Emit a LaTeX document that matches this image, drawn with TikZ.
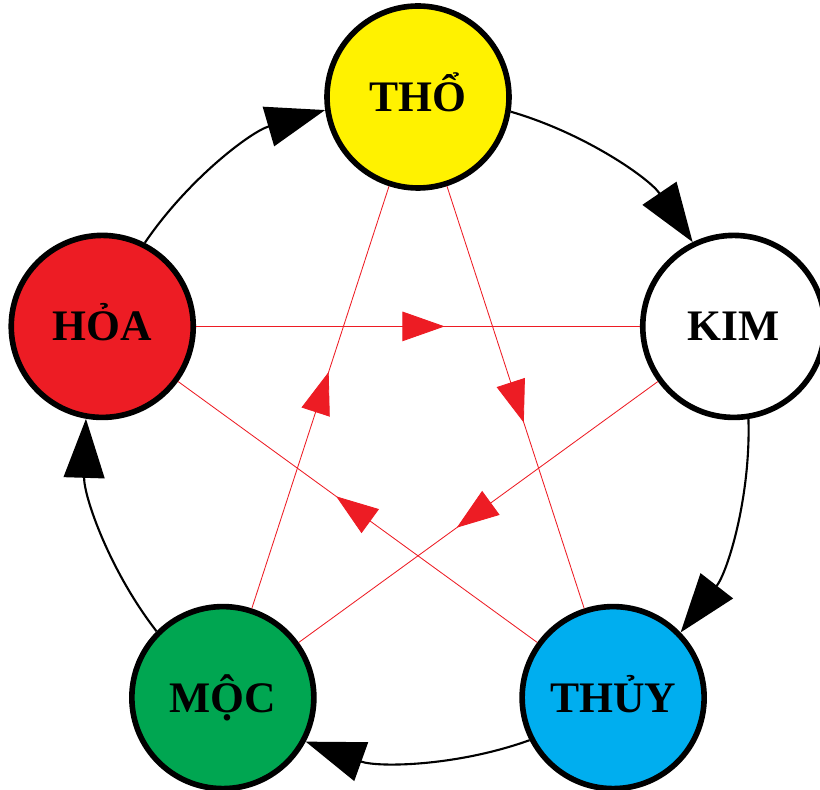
\documentclass[tikz,border=0pt]{standalone}
\usepackage{fontspec}
\setmainfont{Liberation Serif}
\definecolor{ThoYellow}{RGB}{255,242,0}
\definecolor{HoaRed}{RGB}{237,28,36}
\definecolor{MocGreen}{RGB}{0,166,81}
\definecolor{ThuyBlue}{RGB}{0,174,239}
\definecolor{LineRed}{RGB}{237,28,36}
\usetikzlibrary{arrows.meta, decorations.markings}

\tikzset{
  element/.style={circle, draw=black, line width=4pt, minimum size=4.55cm,
    inner sep=0pt, font=\fontsize{31}{31}\selectfont\bfseries,
    text height=20.5pt, text depth=0pt},
  generating/.style={line width=1.5pt, -{Triangle[length=42pt, width=29pt]},
    looseness=0.88},
  controlling/.style={draw=LineRed, line width=0.6pt, postaction={decorate},
    decoration={markings, mark=at position 0.56 with
      {\arrow[LineRed]{Triangle[length=30pt, width=21pt]}}}},
}

\begin{document}
\begin{tikzpicture}

    \useasboundingbox (-10.45,-9.025) rectangle (10.05,10.725);

    % Nam hanh
    \node [element, fill=ThoYellow] (tho) at (90:8.3) {THỔ};
    \node [element, fill=white] (kim) at (18:8.3) {KIM};
    \node [element, fill=ThuyBlue] (thuy) at (-54:8.3) {THỦY};
    \node [element, fill=MocGreen] (moc) at (234:8.3) {MỘC};
    \node [element, fill=HoaRed] (hoa) at (162:8.3) {HỎA};

    % Vong tuong sinh (cung tron ngoai)
    \foreach \src/\dst/\ang in {hoa/tho/162, tho/kim/90, kim/thuy/18,
                                thuy/moc/-54, moc/hoa/-126} {
        \pgfmathsetmacro\startang{mod(\ang-98.1+720,360)}
        \pgfmathsetmacro\endang{mod(\ang+26.1+720,360)}
        \pgfmathsetmacro\outang{mod(\ang-106.2+720,360)}
        \pgfmathsetmacro\inang{mod(\ang+34.2+720,360)}
        \draw [generating] (\src.\startang) to [out=\outang, in=\inang] (\dst.\endang);
    }

    % Vong tuong khac
    \draw [controlling] (hoa) -- (kim);
    \draw [controlling] (kim) -- (moc);
    \draw [controlling] (moc) -- (tho);
    \draw [controlling] (tho) -- (thuy);
    \draw [controlling] (thuy) -- (hoa);

\end{tikzpicture}
\end{document}
